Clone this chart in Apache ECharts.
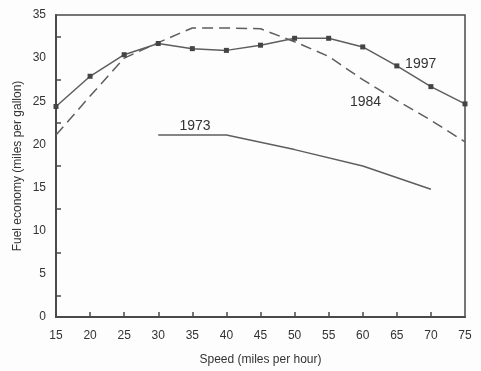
<!DOCTYPE html>
<html><head><meta charset="utf-8">
<script src="https://cdn.jsdelivr.net/npm/echarts@6/dist/echarts.min.js"></script>
<style>html,body{margin:0;padding:0;background:#fdfdfd}#c{width:481px;height:371px}</style>
</head><body><div id="c"></div>
<script>
const speeds1997 = [15,20,25,30,35,40,45,50,55,60,65,70,75];
const mpg1997    = [24.4,27.9,30.4,31.7,31.1,30.9,31.5,32.3,32.3,31.3,29.1,26.7,24.7];
const speeds1984 = [15,20,25,30,35,40,45,50,55,60,65,70,75];
const mpg1984    = [21.1,25.6,30.0,31.8,33.5,33.5,33.4,31.9,30.2,27.5,25.1,22.8,20.3];
const speeds1973 = [30,40,50,60,70];
const mpg1973    = [21.1,21.1,19.4,17.5,14.8];
const xTickValues = [20,25,30,35,40,45,50,55,60,65,70];
const yTickValues = [2.5,7.5,12.5,17.5,22.5,27.5,32.5];
const labelPos = {'1997':[68.5,29.3],'1984':[60.4,24.9],'1973':[35.4,22.1]};

const zip = (a,b)=>a.map((v,i)=>[v,b[i]]);
const font = 'Liberation Sans, Arial, sans-serif';
const axisColor = '#4a4a4a';
const lineColor = '#5e5e5e';
function tag(name){
  return {symbol:'circle', symbolSize:2, silent:true, animation:false,
    itemStyle:{color:'rgba(0,0,0,0)'},
    label:{show:true, formatter:name, position:'inside', fontFamily:font, fontSize:14, color:'#333'},
    data:[{coord:labelPos[name]}]};
}
const chart = echarts.init(document.getElementById('c'), null, {renderer:'canvas'});
chart.setOption({
  backgroundColor:'#fdfdfd',
  animation:false,
  grid:{left:56, right:16, top:15, bottom:54, show:true, borderColor:axisColor, borderWidth:1.5, backgroundColor:'transparent'},
  xAxis:{type:'value', min:15, max:75, interval:5,
    name:'Speed (miles per hour)', nameLocation:'middle', nameGap:37, nameMoveOverlap:false,
    nameTextStyle:{fontFamily:font, fontSize:12, color:'#333'},
    axisLine:{show:true, lineStyle:{color:axisColor, width:2}},
    axisTick:{show:true, inside:true, length:5, customValues:xTickValues, lineStyle:{color:axisColor, width:1.5}},
    axisLabel:{fontFamily:font, fontSize:12, color:'#333', margin:13},
    splitLine:{show:false}},
  yAxis:{type:'value', min:0, max:35, interval:5,
    name:'Fuel economy (miles per gallon)', nameLocation:'middle', nameGap:32, nameMoveOverlap:false,
    nameTextStyle:{fontFamily:font, fontSize:12, color:'#333'},
    axisLine:{show:true, lineStyle:{color:axisColor, width:2}},
    axisTick:{show:true, inside:true, length:5, customValues:yTickValues, lineStyle:{color:axisColor, width:1.5}},
    axisLabel:{fontFamily:font, fontSize:12, color:'#333', margin:10},
    splitLine:{show:false}},
  series:[
    {name:'1997', type:'line', data:zip(speeds1997,mpg1997), symbol:'rect', symbolSize:5,
      itemStyle:{color:'#444'}, lineStyle:{color:lineColor, width:1.5}, markPoint:tag('1997'), z:3},
    {name:'1984', type:'line', data:zip(speeds1984,mpg1984), symbol:'none',
      lineStyle:{color:lineColor, width:1.5, type:[11,6]}, markPoint:tag('1984'), z:2},
    {name:'1973', type:'line', data:zip(speeds1973,mpg1973), symbol:'none',
      lineStyle:{color:lineColor, width:1.5}, markPoint:tag('1973'), z:2}
  ]
});
</script></body></html>
